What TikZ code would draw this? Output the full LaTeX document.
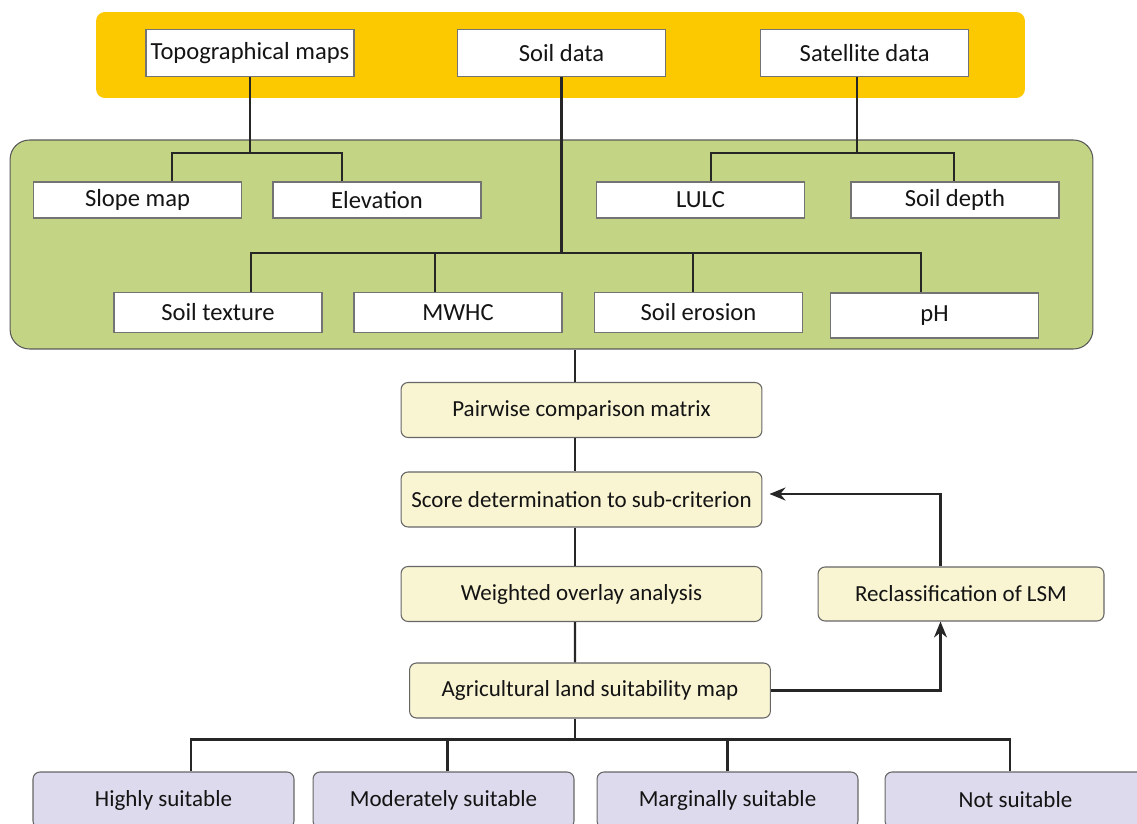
\documentclass[tikz,border=0pt]{standalone}
\usepackage{fontspec}
\setmainfont{Carlito}
\usepackage{tikz}
\usetikzlibrary{arrows.meta}
\definecolor{srcYellow}{HTML}{FCC800}
\definecolor{critGreen}{HTML}{C3D484}
\definecolor{stepCream}{HTML}{F9F4D2}
\definecolor{classLilac}{HTML}{DCDAEC}
\definecolor{lineDark}{HTML}{262626}

\tikzset{
	databox/.style={draw=black!55, line width=0.6pt, fill=white, inner sep=0pt,
		minimum width=4.16cm, font=\fontsize{14}{16}\selectfont},
	stepbox/.style={draw=black!60, line width=0.6pt, fill=stepCream, rounded corners=4pt,
		inner sep=0pt, minimum width=7.22cm, minimum height=1.1cm, font=\fontsize{13.1}{15}\selectfont},
	classbox/.style={draw=black!60, line width=0.6pt, fill=classLilac, rounded corners=4pt,
		inner sep=0pt, minimum width=5.22cm, minimum height=1.12cm, font=\fontsize{13.1}{15}\selectfont},
	link/.style={draw=lineDark, line width=1.3pt},
	flow/.style={link, -{Stealth[length=3.2mm, width=2.6mm]}}
}

\begin{document}
\begin{tikzpicture}[x=0.02cm, y=-0.02cm, text=black!92]
	\useasboundingbox (0,0) rectangle (1137,824);
	\clip (0,0) rectangle (1137,824);

	% source band and criteria panel
	\node[fill=srcYellow, rounded corners=5pt, minimum width=18.58cm, minimum height=1.72cm] (src) at (560.5,55) {};
	\node[draw=black!65, line width=0.6pt, fill=critGreen, rounded corners=11pt,
		minimum width=21.66cm, minimum height=4.18cm] (crit) at (551.5,244.5) {};

	\node[databox, minimum height=0.94cm] (topo) at (250,53.3) {Topographical maps};
	\node[databox, minimum height=0.94cm] (soil) at (561.5,53.3) {Soil data};
	\node[databox, minimum height=0.94cm] (sat) at (864.7,53.3) {Satellite data};

	\node[databox, minimum height=0.72cm] (slope) at (137.5,200) {Slope map};
	\node[databox, minimum height=0.72cm] (elev) at (377,200) {Elevation};
	\node[databox, minimum height=0.72cm] (lulc) at (700.5,200) {LULC};
	\node[databox, minimum height=0.72cm] (depth) at (955,200) {Soil depth};

	\node[databox, minimum height=0.8cm] (texture) at (218,312.4) {Soil texture};
	\node[databox, minimum height=0.8cm] (mwhc) at (458,312.4) {MWHC};
	\node[databox, minimum height=0.8cm] (erosion) at (698.5,312.4) {Soil erosion};
	\node[databox, minimum height=0.9cm] (ph) at (934.5,315.5) {pH};

	% AHP steps
	\node[stepbox] (pair) at (581.5,410) {Pairwise comparison matrix};
	\node[stepbox] (score) at (581.5,499.5) {Score determination to sub-criterion};
	\node[stepbox] (weight) at (581.5,594) {Weighted overlay analysis};
	\node[stepbox] (agri) at (590,690.5) {Agricultural land suitability map};
	\node[stepbox, minimum width=5.72cm, minimum height=1.08cm] (reclass) at (961,594) {Reclassification of LSM};

	\node[classbox] (high) at (163.5,800) {Highly suitable};
	\node[classbox] (moder) at (443.5,800) {Moderately suitable};
	\node[classbox] (margin) at (727.5,800) {Marginally suitable};
	\node[classbox] (nots) at (1015.5,800) {Not suitable};

	\coordinate (tbus) at (0,153);
	\coordinate (sbus) at (0,253);
	\coordinate (obus) at (0,739.5);

	% source to criteria
	\draw[link] (topo.south) -- (topo.south |- tbus);
	\draw[link] ([xshift=0.69cm]slope.north) |- ([xshift=-0.7cm]elev.north |- tbus) -- ([xshift=-0.7cm]elev.north);
	\draw[link] ([xshift=-0.15cm]sat.south) -- ([xshift=-0.15cm]sat.south |- tbus);
	\draw[link] ([xshift=0.21cm]lulc.north) |- ([xshift=-0.02cm]depth.north |- tbus) -- ([xshift=-0.02cm]depth.north);
	\draw[link] (soil.south) -- (soil.south |- sbus);
	\draw[link] ([xshift=0.66cm]texture.north) |- ([xshift=-0.27cm]ph.north |- sbus) -- ([xshift=-0.27cm]ph.north);
	\draw[link] ([xshift=-0.46cm]mwhc.north) -- ([xshift=-0.46cm]mwhc.north |- sbus);
	\draw[link] ([xshift=-0.11cm]erosion.north) -- ([xshift=-0.11cm]erosion.north |- sbus);

	% main flow
	\draw[link] ([xshift=-0.13cm]pair.north) -- ([xshift=-0.13cm]pair.north |- crit.south);
	\draw[link] ([xshift=-0.13cm]pair.south) -- ([xshift=-0.13cm]score.north);
	\draw[link] ([xshift=-0.13cm]score.south) -- ([xshift=-0.13cm]weight.north);
	\draw[link] ([xshift=-0.13cm]weight.south) -- ([xshift=-0.3cm]agri.north);
	\draw[flow] (agri.east) -| ([xshift=-0.41cm]reclass.south);
	\draw[flow] ([xshift=-0.41cm]reclass.north) |- ([xshift=0.14cm, yshift=0.11cm]score.east);

	% suitability classes
	\draw[link] ([xshift=-0.3cm]agri.south) -- ([xshift=-0.3cm]agri.south |- obus);
	\draw[link] ([xshift=0.55cm]high.north) |- ([xshift=-0.11cm]nots.north |- obus) -- ([xshift=-0.11cm]nots.north);
	\draw[link] ([xshift=0.08cm]moder.north) -- ([xshift=0.08cm]moder.north |- obus);
	\draw[link] (margin.north) -- (margin.north |- obus);
\end{tikzpicture}
\end{document}
